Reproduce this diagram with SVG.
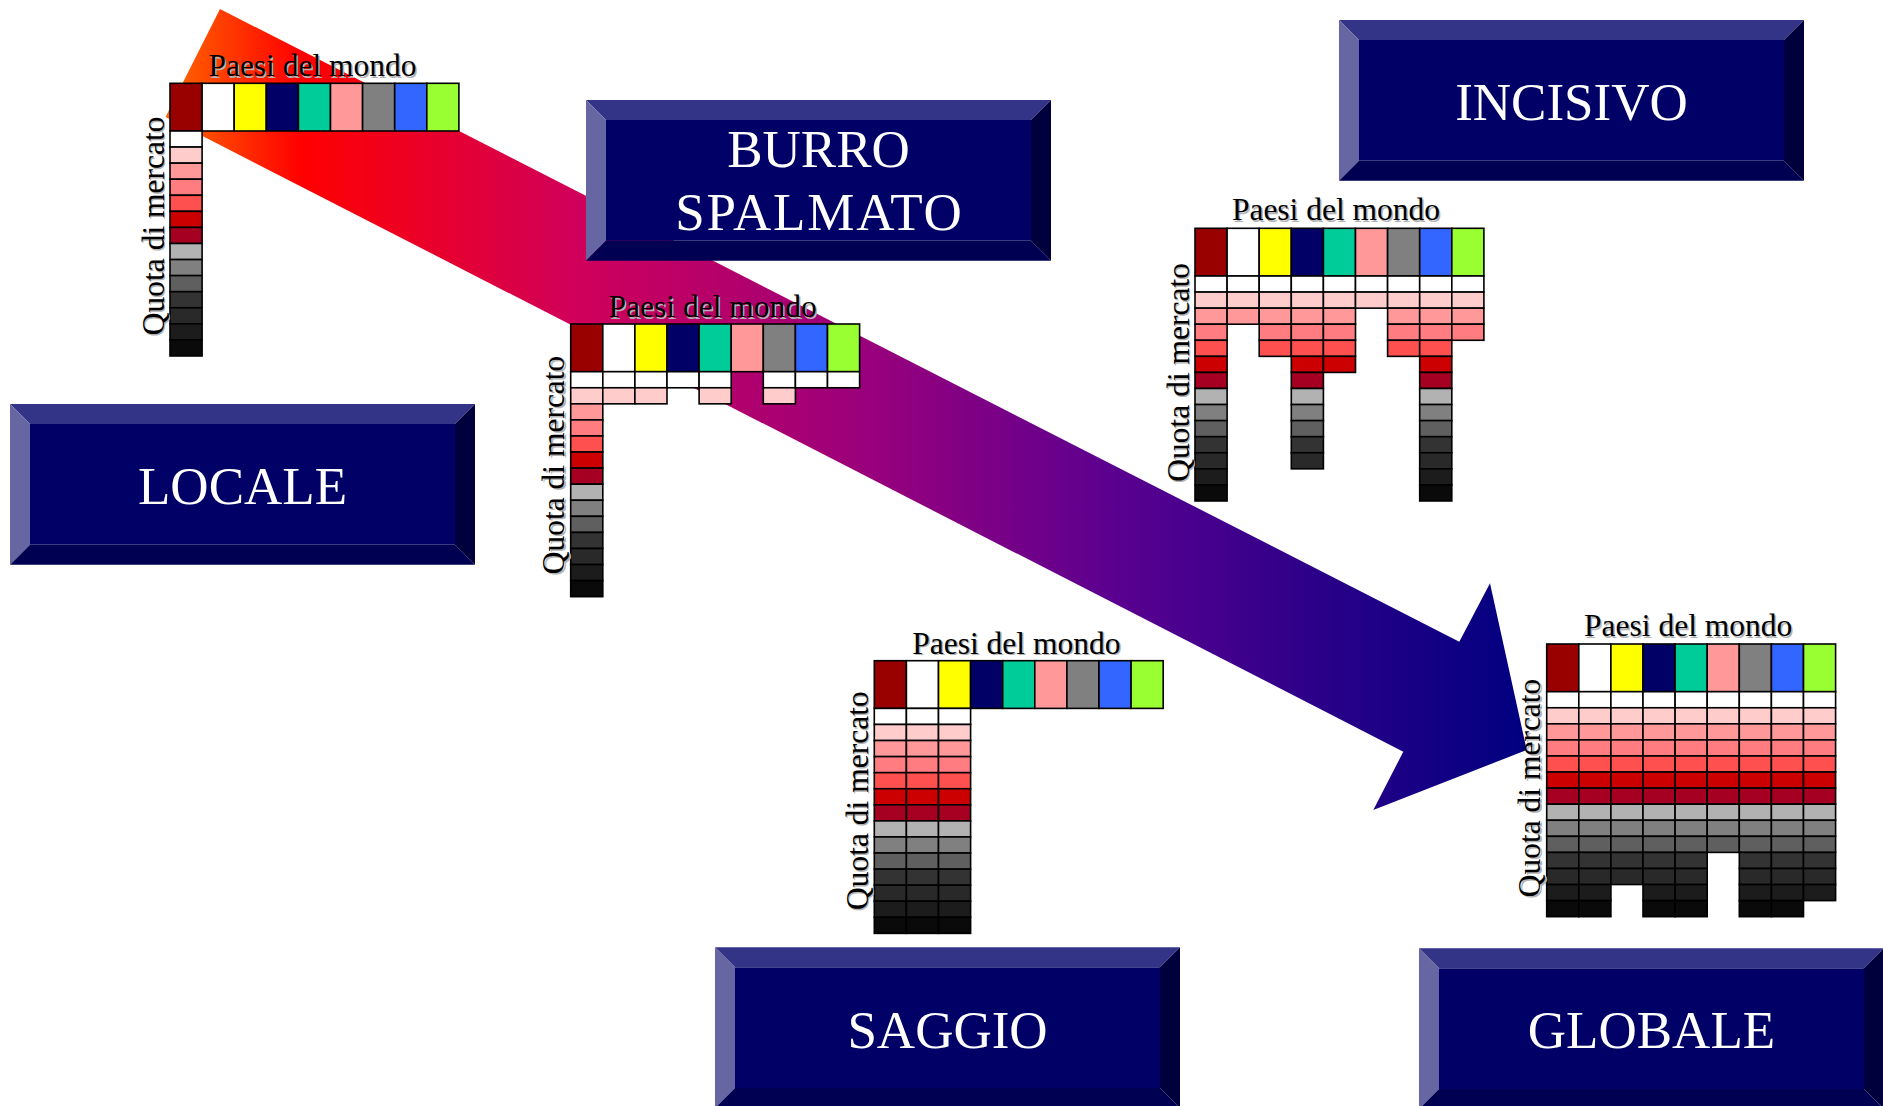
<svg xmlns="http://www.w3.org/2000/svg" width="1883" height="1106" viewBox="0 0 1883 1106">
<style>
.cell{stroke:#000;stroke-width:1.6}
.lbl{font-family:"Liberation Serif","Times New Roman",serif;font-size:31.5px;text-anchor:middle;fill:#000}
.sh{fill:#b4b4b4}
.bt{font-family:"Liberation Serif","Times New Roman",serif;font-size:53px;text-anchor:middle;fill:#fff}
</style>
<defs>
<linearGradient id="arrowGrad" gradientUnits="userSpaceOnUse" x1="165" y1="0" x2="1527" y2="0">
<stop offset="0" stop-color="#ff6a00"/>
<stop offset="0.1" stop-color="#ff0000"/>
<stop offset="0.3" stop-color="#d0005a"/>
<stop offset="0.52" stop-color="#98007c"/>
<stop offset="0.7" stop-color="#5a0090"/>
<stop offset="0.85" stop-color="#2a0088"/>
<stop offset="1" stop-color="#000080"/>
</linearGradient>
<g id="bevel">
<rect x="20" y="20" width="425" height="120.7" fill="#000066"/>
<polygon points="0,0 465,0 445,20 20,20" fill="#333388"/>
<polygon points="0,0 20,20 20,140.7 0,160.7" fill="#6666a3"/>
<polygon points="0,160.7 20,140.7 445,140.7 465,160.7" fill="#000052"/>
<polygon points="465,0 465,160.7 445,140.7 445,20" fill="#00003d"/>
</g>
<g id="hdr">
<rect class="cell" x="0" y="0" width="32.1" height="47.7" fill="#990000"/>
<rect class="cell" x="32.1" y="0" width="32.1" height="47.7" fill="#ffffff"/>
<rect class="cell" x="64.2" y="0" width="32.1" height="47.7" fill="#ffff00"/>
<rect class="cell" x="96.3" y="0" width="32.1" height="47.7" fill="#000066"/>
<rect class="cell" x="128.4" y="0" width="32.1" height="47.7" fill="#00cc99"/>
<rect class="cell" x="160.5" y="0" width="32.1" height="47.7" fill="#ff9999"/>
<rect class="cell" x="192.6" y="0" width="32.1" height="47.7" fill="#808080"/>
<rect class="cell" x="224.7" y="0" width="32.1" height="47.7" fill="#3366ff"/>
<rect class="cell" x="256.8" y="0" width="32.1" height="47.7" fill="#99ff33"/>
</g>
<rect id="r1" class="cell" y="47.7" width="32.1" height="16.07" fill="#ffffff"/>
<rect id="r2" class="cell" y="63.77" width="32.1" height="16.07" fill="#ffcccc"/>
<rect id="r3" class="cell" y="79.84" width="32.1" height="16.07" fill="#ff9999"/>
<rect id="r4" class="cell" y="95.91" width="32.1" height="16.07" fill="#ff7c80"/>
<rect id="r5" class="cell" y="111.98" width="32.1" height="16.07" fill="#ff5050"/>
<rect id="r6" class="cell" y="128.05" width="32.1" height="16.07" fill="#cc0000"/>
<rect id="r7" class="cell" y="144.12" width="32.1" height="16.07" fill="#a50021"/>
<rect id="r8" class="cell" y="160.19" width="32.1" height="16.07" fill="#b2b2b2"/>
<rect id="r9" class="cell" y="176.26" width="32.1" height="16.07" fill="#808080"/>
<rect id="r10" class="cell" y="192.33" width="32.1" height="16.07" fill="#5f5f5f"/>
<rect id="r11" class="cell" y="208.4" width="32.1" height="16.07" fill="#333333"/>
<rect id="r12" class="cell" y="224.47" width="32.1" height="16.07" fill="#292929"/>
<rect id="r13" class="cell" y="240.54" width="32.1" height="16.07" fill="#1c1c1c"/>
<rect id="r14" class="cell" y="256.61" width="32.1" height="16.07" fill="#0a0a0a"/>
<g id="k1"><use href="#r1"/></g>
<g id="k2"><use href="#k1"/><use href="#r2"/></g>
<g id="k3"><use href="#k2"/><use href="#r3"/></g>
<g id="k4"><use href="#k3"/><use href="#r4"/></g>
<g id="k5"><use href="#k4"/><use href="#r5"/></g>
<g id="k6"><use href="#k5"/><use href="#r6"/></g>
<g id="k7"><use href="#k6"/><use href="#r7"/></g>
<g id="k8"><use href="#k7"/><use href="#r8"/></g>
<g id="k9"><use href="#k8"/><use href="#r9"/></g>
<g id="k10"><use href="#k9"/><use href="#r10"/></g>
<g id="k11"><use href="#k10"/><use href="#r11"/></g>
<g id="k12"><use href="#k11"/><use href="#r12"/></g>
<g id="k13"><use href="#k12"/><use href="#r13"/></g>
<g id="k14"><use href="#k13"/><use href="#r14"/></g>
</defs>

<rect width="1883" height="1106" fill="#ffffff"/>

<g id="connectors">
<polygon id="big-arrow" points="220,9 1459.3,641.7 1490,583.3 1526.7,750 1373.3,810 1403.3,751.7 165.5,117" fill="url(#arrowGrad)"/>
</g>

<g id="node-locale" transform="translate(10,404)">
<use href="#bevel"/>
<text class="bt" x="232.5" y="99.5">LOCALE</text>
</g>
<g id="node-burro" transform="translate(586,100)">
<use href="#bevel"/>
<text class="bt" x="232.5" y="67.3">BURRO</text>
<text class="bt" x="233.5" y="130" letter-spacing="1.8">SPALMATO</text>
</g>
<g id="node-incisivo" transform="translate(1339,20)">
<use href="#bevel"/>
<text class="bt" x="232.5" y="99.5">INCISIVO</text>
</g>
<g id="node-saggio" transform="translate(715,947.3)">
<use href="#bevel"/>
<text class="bt" x="232.5" y="100.5">SAGGIO</text>
</g>
<g id="node-globale" transform="translate(1419,948.3)">
<use href="#bevel"/>
<text class="bt" x="232.5" y="99.5">GLOBALE</text>
</g>

<g id="chart-locale" transform="translate(170,83.3)">
<use href="#hdr"/>
<use href="#k14" x="0"/>
<text class="lbl sh" x="144" y="-5.5">Paesi del mondo</text>
<text class="lbl" x="142.5" y="-7">Paesi del mondo</text>
<text class="lbl sh" transform="translate(-5,144) rotate(-90)">Quota di mercato</text>
<text class="lbl" transform="translate(-6.5,142.5) rotate(-90)">Quota di mercato</text>
</g>

<g id="chart-burro" transform="translate(570.7,324)">
<use href="#hdr"/>
<use href="#k14" x="0"/>
<use href="#k2" x="32.1"/>
<use href="#k2" x="64.2"/>
<use href="#k1" x="96.3"/>
<use href="#k2" x="128.4"/>
<use href="#k2" x="192.6"/>
<use href="#k1" x="224.7"/>
<use href="#k1" x="256.8"/>
<text class="lbl sh" x="143.5" y="-5.5">Paesi del mondo</text>
<text class="lbl" x="142" y="-7">Paesi del mondo</text>
<text class="lbl sh" transform="translate(-5,142.5) rotate(-90)">Quota di mercato</text>
<text class="lbl" transform="translate(-6.5,141) rotate(-90)">Quota di mercato</text>
</g>

<g id="chart-incisivo" transform="translate(1195,228.3)">
<use href="#hdr"/>
<use href="#k14" x="0"/>
<use href="#k3" x="32.1"/>
<use href="#k5" x="64.2"/>
<use href="#k12" x="96.3"/>
<use href="#k6" x="128.4"/>
<use href="#k2" x="160.5"/>
<use href="#k5" x="192.6"/>
<use href="#k14" x="224.7"/>
<use href="#k4" x="256.8"/>
<text class="lbl sh" x="142.5" y="-6.5">Paesi del mondo</text>
<text class="lbl" x="141" y="-8">Paesi del mondo</text>
<text class="lbl sh" transform="translate(-5,145.5) rotate(-90)">Quota di mercato</text>
<text class="lbl" transform="translate(-6.5,144) rotate(-90)">Quota di mercato</text>
</g>

<g id="chart-saggio" transform="translate(874.3,660.7)">
<use href="#hdr"/>
<use href="#k14" x="0"/>
<use href="#k14" x="32.1"/>
<use href="#k14" x="64.2"/>
<text class="lbl sh" x="143.5" y="-5.5">Paesi del mondo</text>
<text class="lbl" x="142" y="-7">Paesi del mondo</text>
<text class="lbl sh" transform="translate(-5,141.5) rotate(-90)">Quota di mercato</text>
<text class="lbl" transform="translate(-6.5,140) rotate(-90)">Quota di mercato</text>
</g>

<g id="chart-globale" transform="translate(1546.7,644)">
<use href="#hdr"/>
<use href="#k14" x="0"/>
<use href="#k14" x="32.1"/>
<use href="#k12" x="64.2"/>
<use href="#k14" x="96.3"/>
<use href="#k14" x="128.4"/>
<use href="#k10" x="160.5"/>
<use href="#k14" x="192.6"/>
<use href="#k14" x="224.7"/>
<use href="#k13" x="256.8"/>
<text class="lbl sh" x="143" y="-6.5">Paesi del mondo</text>
<text class="lbl" x="141.5" y="-8">Paesi del mondo</text>
<text class="lbl sh" transform="translate(-5,145.5) rotate(-90)">Quota di mercato</text>
<text class="lbl" transform="translate(-6.5,144) rotate(-90)">Quota di mercato</text>
</g>
</svg>
